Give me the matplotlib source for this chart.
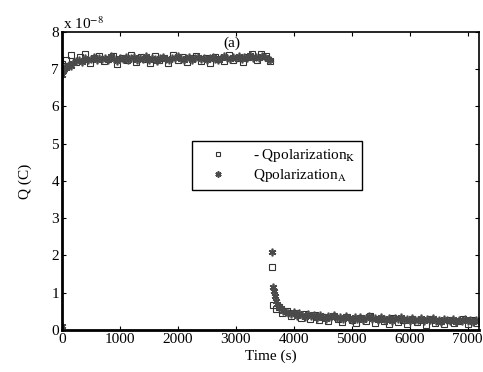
import matplotlib
matplotlib.use('Agg')
import matplotlib.pyplot as plt

plt.rcParams['font.family'] = ['Liberation Serif', 'DejaVu Serif']
plt.rcParams['mathtext.fontset'] = 'stix'
plt.rcParams['font.size'] = 11

# Qpolarization_K (squares), charge in units of 1e-8 C
tk1 = list(range(0, 3601, 80))
qk1 = [7.15, 7.25, 7.38, 7.20, 7.32, 7.40, 7.18, 7.30, 7.35, 7.22,
       7.28, 7.36, 7.15, 7.30, 7.25, 7.38, 7.20, 7.33, 7.27, 7.18,
       7.35, 7.24, 7.30, 7.16, 7.38, 7.26, 7.32, 7.20, 7.29, 7.36,
       7.22, 7.31, 7.17, 7.34, 7.27, 7.21, 7.37, 7.25, 7.30, 7.19,
       7.33, 7.40, 7.26, 7.42, 7.35, 7.22]
tk2 = [3620, 3650, 3690, 3740, 3800] + list(range(3880, 7161, 80))
qk2 = [1.70, 0.68, 0.55, 0.62, 0.45,
       0.50, 0.38, 0.45, 0.33, 0.42, 0.30, 0.40, 0.28, 0.36, 0.25,
       0.38, 0.30, 0.22, 0.35, 0.27, 0.18, 0.33, 0.25, 0.37, 0.20,
       0.30, 0.24, 0.15, 0.32, 0.22, 0.28, 0.17, 0.30, 0.21, 0.26,
       0.14, 0.29, 0.20, 0.25, 0.16, 0.28, 0.19, 0.24, 0.30, 0.15,
       0.27, 0.20]

# Qpolarization_A (asterisks)
ta1 = [0, 10, 25, 40, 60, 80, 100, 130, 160, 200] + list(range(250, 3601, 50))
qa1 = [0.10, 6.85, 6.95, 7.00, 7.05, 7.02, 7.10, 7.12, 7.08, 7.18,
       7.22, 7.26, 7.20, 7.30, 7.25, 7.28, 7.33, 7.24, 7.29, 7.27,
       7.31, 7.25, 7.36, 7.28, 7.23, 7.30, 7.27, 7.34, 7.26, 7.29,
       7.32, 7.24, 7.30, 7.28, 7.35, 7.26, 7.31, 7.27, 7.22, 7.30,
       7.33, 7.28, 7.25, 7.31, 7.29, 7.36, 7.27, 7.24, 7.30, 7.32,
       7.26, 7.29, 7.34, 7.27, 7.31, 7.25, 7.30, 7.33, 7.28, 7.26,
       7.31, 7.35, 7.29, 7.27, 7.32, 7.30, 7.36, 7.28, 7.33, 7.31,
       7.38, 7.30, 7.34, 7.29, 7.36, 7.32, 7.28, 7.25]
ta2 = [3620, 3640, 3660, 3680, 3700, 3720, 3750, 3780, 3820, 3860, 3900] + list(range(3950, 7201, 50))
qa2 = [2.10, 1.15, 1.05, 0.90, 0.78, 0.70, 0.62, 0.58, 0.52, 0.48, 0.45,
       0.42, 0.48, 0.38, 0.45, 0.40, 0.35, 0.44, 0.37, 0.41, 0.33,
       0.39, 0.36, 0.30, 0.38, 0.34, 0.40, 0.31, 0.35, 0.29, 0.37,
       0.33, 0.28, 0.36, 0.30, 0.34, 0.27, 0.32, 0.38, 0.29, 0.31,
       0.26, 0.34, 0.30, 0.28, 0.33, 0.25, 0.31, 0.29, 0.35, 0.27,
       0.30, 0.24, 0.32, 0.28, 0.26, 0.31, 0.23, 0.29, 0.27, 0.33,
       0.25, 0.28, 0.22, 0.30, 0.26, 0.24, 0.29, 0.21, 0.27, 0.25,
       0.30, 0.23, 0.26, 0.22, 0.28, 0.24]

fig = plt.figure(figsize=(4.83, 3.72), dpi=100)
ax = fig.add_axes([0.128, 0.113, 0.864, 0.801])

ax.plot(tk1 + tk2, qk1 + qk2, linestyle='none', marker='s', ms=4.2,
        mfc='none', mec='#333333', mew=0.8, label='- Qpolarization$_\\mathrm{K}$')
ax.plot(ta1 + ta2, qa1 + qa2, linestyle='none', marker=(6, 2, 0), ms=5.5,
        color='#4a4a4a', mew=1.2, label='Qpolarization$_\\mathrm{A}$')

ax.set_xlim(0, 7200)
ax.set_ylim(0, 8)
ax.set_xticks(range(0, 7001, 1000))
ax.set_yticks(range(0, 9))
ax.tick_params(direction='in', top=True, right=True, length=3, width=0.8, pad=2)
for side in ['left', 'bottom']:
    ax.spines[side].set_linewidth(2)
for side in ['top', 'right']:
    ax.spines[side].set_linewidth(1.2)

ax.set_xlabel('Time (s)', labelpad=3)
ax.set_ylabel('Q (C)', labelpad=14)
ax.text(0.003, 1.0, 'x 10$^{\\mathrm{-8}}$', transform=ax.transAxes,
        ha='left', va='bottom', fontsize=11)
ax.text(2930, 7.7, '(a)', ha='center', va='center', fontsize=11)

leg = ax.legend(loc='center', bbox_to_anchor=(0.515, 0.552), fancybox=False,
                edgecolor='black', framealpha=1, handlelength=2.6,
                handletextpad=1.0, markerscale=0.8,
                borderpad=0.4, labelspacing=0.2)
leg.get_frame().set_linewidth(1)

fig.savefig('out.png', dpi=100)
